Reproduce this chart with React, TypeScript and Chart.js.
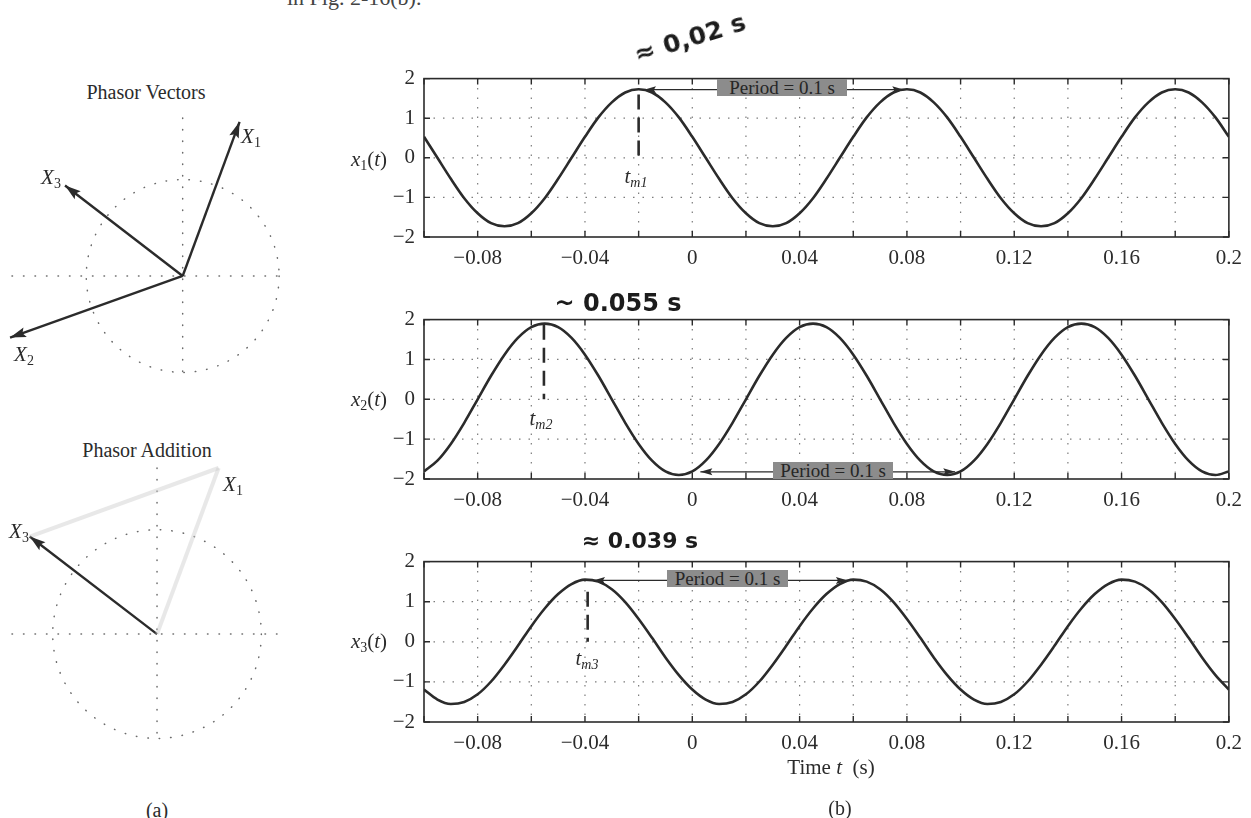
import React, { useEffect, useRef } from "react";
import { Chart, registerables } from "chart.js";

Chart.register(...registerables);

// ---------------- data ----------------
const timeValues = [
  -0.1, -0.095, -0.09, -0.085, -0.08, -0.075, -0.07, -0.065, -0.06, -0.055,
  -0.05, -0.045, -0.04, -0.035, -0.03, -0.025, -0.02, -0.015, -0.01, -0.005,
  0, 0.005, 0.01, 0.015, 0.02, 0.025, 0.03, 0.035, 0.04, 0.045,
  0.05, 0.055, 0.06, 0.065, 0.07, 0.075, 0.08, 0.085, 0.09, 0.095,
  0.1, 0.105, 0.11, 0.115, 0.12, 0.125, 0.13, 0.135, 0.14, 0.145,
  0.15, 0.155, 0.16, 0.165, 0.17, 0.175, 0.18, 0.185, 0.19, 0.195, 0.2,
];

const x1Values = [
  0.53, 0, -0.53, -1.02, -1.4, -1.65, -1.73, -1.65, -1.4, -1.02,
  -0.53, 0, 0.53, 1.02, 1.4, 1.65, 1.73, 1.65, 1.4, 1.02,
  0.53, 0, -0.53, -1.02, -1.4, -1.65, -1.73, -1.65, -1.4, -1.02,
  -0.53, 0, 0.53, 1.02, 1.4, 1.65, 1.73, 1.65, 1.4, 1.02,
  0.53, 0, -0.53, -1.02, -1.4, -1.65, -1.73, -1.65, -1.4, -1.02,
  -0.53, 0, 0.53, 1.02, 1.4, 1.65, 1.73, 1.65, 1.4, 1.02, 0.53,
];

const x2Values = [
  -1.81, -1.54, -1.12, -0.59, 0, 0.59, 1.12, 1.54, 1.81, 1.9,
  1.81, 1.54, 1.12, 0.59, 0, -0.59, -1.12, -1.54, -1.81, -1.9,
  -1.81, -1.54, -1.12, -0.59, 0, 0.59, 1.12, 1.54, 1.81, 1.9,
  1.81, 1.54, 1.12, 0.59, 0, -0.59, -1.12, -1.54, -1.81, -1.9,
  -1.81, -1.54, -1.12, -0.59, 0, 0.59, 1.12, 1.54, 1.81, 1.9,
  1.81, 1.54, 1.12, 0.59, 0, -0.59, -1.12, -1.54, -1.81, -1.9, -1.81,
];

const x3Values = [
  -1.19, -1.44, -1.55, -1.5, -1.31, -0.99, -0.57, -0.1, 0.39, 0.83,
  1.19, 1.44, 1.55, 1.5, 1.31, 0.99, 0.57, 0.1, -0.39, -0.83,
  -1.19, -1.44, -1.55, -1.5, -1.31, -0.99, -0.57, -0.1, 0.39, 0.83,
  1.19, 1.44, 1.55, 1.5, 1.31, 0.99, 0.57, 0.1, -0.39, -0.83,
  -1.19, -1.44, -1.55, -1.5, -1.31, -0.99, -0.57, -0.1, 0.39, 0.83,
  1.19, 1.44, 1.55, 1.5, 1.31, 0.99, 0.57, 0.1, -0.39, -0.83, -1.19,
];

const xTickValues = [-0.1, -0.08, -0.06, -0.04, -0.02, 0, 0.02, 0.04, 0.06, 0.08, 0.1, 0.12, 0.14, 0.16, 0.18, 0.2];
const xTickLabels = ["", "−0.08", "", "−0.04", "", "0", "", "0.04", "", "0.08", "", "0.12", "", "0.16", "", "0.2"];
const yTickValues = [-2, -1, 0, 1, 2];
const yTickLabels = ["−2", "−1", "0", "1", "2"];

// period arrows: [t start, t end, level]
const periodArrow1 = [-0.018, 0.079, 1.72];
const periodArrow2 = [0.003, 0.098, -1.82];
const periodArrow3 = [-0.037, 0.058, 1.53];
// peak markers: [t, y top, y bottom]
const peakMarker1 = [-0.02, 1.6, 0];
const peakMarker2 = [-0.0553, 1.87, 0];
const peakMarker3 = [-0.039, 1.25, 0];

// phasors [re, im]
const phasorX1 = [0.59, 1.6];
const phasorX2 = [-1.79, -0.64];
const phasorX3 = [-1.22, 0.94];
const vectorsLimits = [-1.77, 1.03, -1.08, 1.64];
const additionLimits = [-1.39, 1.15, -1.02, 1.6];

// ---------------- styling ----------------
const INK = "#2b2b2b";
const SERIF = '"Liberation Serif", "DejaVu Serif", serif';
const HAND = '"DejaVu Sans", "Noto Sans", sans-serif';
const FAINT = "rgba(205,205,205,0.45)";

function drawHead(ctx: CanvasRenderingContext2D, fx: number, fy: number, tx: number, ty: number, len: number, w: number) {
  const ang = Math.atan2(ty - fy, tx - fx);
  ctx.save();
  ctx.translate(tx, ty);
  ctx.rotate(ang);
  ctx.beginPath();
  ctx.moveTo(0, 0);
  ctx.lineTo(-len, w / 2);
  ctx.lineTo(-len * 0.82, 0);
  ctx.lineTo(-len, -w / 2);
  ctx.closePath();
  ctx.fill();
  ctx.restore();
}

function drawArrowHeads(chart: any) {
  const ctx = chart.ctx;
  chart.data.datasets.forEach((ds: any, i: number) => {
    if (!ds.arrowHeads) return;
    const pts = chart.getDatasetMeta(i).data;
    if (pts.length < 2) return;
    const a = pts[0];
    const b = pts[pts.length - 1];
    ctx.save();
    ctx.fillStyle = ds.borderColor;
    drawHead(ctx, a.x, a.y, b.x, b.y, ds.headLen, ds.headWidth);
    if (ds.arrowHeads === "both") drawHead(ctx, b.x, b.y, a.x, a.y, ds.headLen, ds.headWidth);
    ctx.restore();
  });
}

const plotDecor = {
  id: "plotDecor",
  beforeDatasetsDraw(chart: any) {
    const { ctx, chartArea: a, scales } = chart;
    const x = scales.x;
    const y = scales.y;
    ctx.save();
    ctx.strokeStyle = "#7c7c7c";
    ctx.lineWidth = 1.2;
    ctx.setLineDash([1.5, 8]);
    for (const v of xTickValues) {
      const px = x.getPixelForValue(v);
      if (px <= a.left + 2 || px >= a.right - 2) continue;
      ctx.beginPath();
      ctx.moveTo(px, a.top);
      ctx.lineTo(px, a.bottom);
      ctx.stroke();
    }
    for (const v of yTickValues) {
      const py = y.getPixelForValue(v);
      if (py <= a.top + 2 || py >= a.bottom - 2) continue;
      ctx.beginPath();
      ctx.moveTo(a.left, py);
      ctx.lineTo(a.right, py);
      ctx.stroke();
    }
    ctx.restore();
  },
  afterDatasetsDraw(chart: any) {
    const { ctx, chartArea: a, scales } = chart;
    const x = scales.x;
    const y = scales.y;
    drawArrowHeads(chart);
    ctx.save();
    ctx.strokeStyle = INK;
    ctx.lineWidth = 1.6;
    ctx.setLineDash([]);
    ctx.strokeRect(a.left, a.top, a.right - a.left, a.bottom - a.top);
    ctx.lineWidth = 1.4;
    for (const v of xTickValues) {
      const px = x.getPixelForValue(v);
      ctx.beginPath();
      ctx.moveTo(px, a.bottom);
      ctx.lineTo(px, a.bottom - 6);
      ctx.moveTo(px, a.top);
      ctx.lineTo(px, a.top + 6);
      ctx.stroke();
    }
    for (const v of yTickValues) {
      const py = y.getPixelForValue(v);
      ctx.beginPath();
      ctx.moveTo(a.left, py);
      ctx.lineTo(a.left + 6, py);
      ctx.moveTo(a.right, py);
      ctx.lineTo(a.right - 6, py);
      ctx.stroke();
    }
    ctx.restore();
  },
};

const phasorDecor = {
  id: "phasorDecor",
  beforeDatasetsDraw(chart: any) {
    const { ctx, chartArea: a, scales } = chart;
    const x = scales.x;
    const y = scales.y;
    const cx = x.getPixelForValue(0);
    const cy = y.getPixelForValue(0);
    const r = x.getPixelForValue(1) - cx;
    ctx.save();
    ctx.strokeStyle = "#6a6a6a";
    ctx.lineWidth = 1.5;
    ctx.lineCap = "round";
    ctx.setLineDash([0.5, 11]);
    ctx.beginPath();
    ctx.moveTo(a.left, cy);
    ctx.lineTo(a.right, cy);
    ctx.stroke();
    ctx.beginPath();
    ctx.moveTo(cx, a.top);
    ctx.lineTo(cx, a.bottom);
    ctx.stroke();
    ctx.beginPath();
    ctx.arc(cx, cy, r, 0, Math.PI * 2);
    ctx.stroke();
    ctx.restore();
  },
  afterDatasetsDraw(chart: any) {
    drawArrowHeads(chart);
  },
};

function tickFont() {
  return { family: SERIF, size: 21 };
}

function plotConfig(values: number[], arrow: number[], marker: number[]) {
  const pts = timeValues.map((t, i) => ({ x: t, y: values[i] }));
  return {
    type: "scatter",
    data: {
      datasets: [
        {
          data: pts,
          showLine: true,
          pointRadius: 0,
          borderColor: INK,
          borderWidth: 2.6,
          cubicInterpolationMode: "monotone",
        },
        {
          data: [
            { x: marker[0], y: marker[1] },
            { x: marker[0], y: marker[2] },
          ],
          showLine: true,
          pointRadius: 0,
          borderColor: INK,
          borderWidth: 2.6,
          borderDash: [15, 8],
        },
        {
          data: [
            { x: arrow[0], y: arrow[2] },
            { x: arrow[1], y: arrow[2] },
          ],
          showLine: true,
          pointRadius: 0,
          borderColor: INK,
          borderWidth: 1.2,
          arrowHeads: "both",
          headLen: 12,
          headWidth: 7,
        },
      ],
    },
    options: {
      animation: false,
      responsive: false,
      events: [],
      layout: { padding: { left: 0, right: 19, top: 20, bottom: 0 } },
      plugins: { legend: { display: false }, tooltip: { enabled: false } },
      scales: {
        x: {
          type: "linear",
          min: -0.1,
          max: 0.2,
          afterBuildTicks: (s: any) => {
            s.ticks = xTickValues.map((v) => ({ value: v }));
          },
          afterFit: (s: any) => {
            s.height = 40;
          },
          grid: { display: false, drawTicks: false },
          border: { display: false },
          ticks: {
            autoSkip: false,
            maxRotation: 0,
            minRotation: 0,
            padding: 9,
            color: INK,
            font: tickFont(),
            callback: (_v: any, i: number) => xTickLabels[i],
          },
        },
        y: {
          type: "linear",
          min: -2,
          max: 2,
          afterBuildTicks: (s: any) => {
            s.ticks = yTickValues.map((v) => ({ value: v }));
          },
          afterFit: (s: any) => {
            s.width = 94;
          },
          grid: { display: false, drawTicks: false },
          border: { display: false },
          ticks: {
            autoSkip: false,
            padding: 9,
            color: INK,
            font: tickFont(),
            callback: (_v: any, i: number) => yTickLabels[i],
          },
        },
      },
    },
    plugins: [plotDecor],
  };
}

function vec(p: number[], extra: any = {}) {
  return {
    data: [
      { x: 0, y: 0 },
      { x: p[0], y: p[1] },
    ],
    showLine: true,
    pointRadius: 0,
    borderColor: INK,
    borderWidth: 2.4,
    clip: false,
    arrowHeads: "end",
    headLen: 16,
    headWidth: 10,
    ...extra,
  };
}

function phasorConfig(limits: number[], datasets: any[], padding: any) {
  return {
    type: "scatter",
    data: { datasets },
    options: {
      animation: false,
      responsive: false,
      events: [],
      layout: { padding },
      plugins: { legend: { display: false }, tooltip: { enabled: false } },
      scales: {
        x: { type: "linear", display: false, min: limits[0], max: limits[1] },
        y: { type: "linear", display: false, min: limits[2], max: limits[3] },
      },
    },
    plugins: [phasorDecor],
  };
}

function ChartBox(props: { left: number; top: number; width: number; height: number; make: () => any }) {
  const ref = useRef<HTMLCanvasElement | null>(null);
  useEffect(() => {
    if (!ref.current) return;
    const chart = new Chart(ref.current, props.make());
    return () => chart.destroy();
  }, []);
  return (
    <canvas
      ref={ref}
      width={props.width}
      height={props.height}
      style={{ position: "absolute", left: props.left, top: props.top, width: props.width, height: props.height }}
    />
  );
}

function Txt(props: { cx: number; cy: number; style?: any; children: any }) {
  return (
    <div
      style={{
        position: "absolute",
        left: props.cx,
        top: props.cy,
        transform: "translate(-50%, -50%)",
        whiteSpace: "nowrap",
        fontFamily: SERIF,
        fontSize: 21,
        color: INK,
        lineHeight: 1,
        ...(props.style || {}),
      }}
    >
      {props.children}
    </div>
  );
}

const subStyle = { fontSize: 14, verticalAlign: "-0.3em", lineHeight: 0 };

function PhasorLabel(props: { cx: number; cy: number; n: string }) {
  return (
    <Txt cx={props.cx} cy={props.cy}>
      <i>X</i>
      <span style={subStyle}>{props.n}</span>
    </Txt>
  );
}

function SigLabel(props: { cy: number; n: string }) {
  return (
    <Txt cx={369} cy={props.cy}>
      <i>x</i>
      <span style={subStyle}>{props.n}</span>(<i>t</i>)
    </Txt>
  );
}

function TmLabel(props: { cx: number; cy: number; n: string }) {
  return (
    <Txt cx={props.cx} cy={props.cy}>
      <i>t</i>
      <i style={subStyle}>m{props.n}</i>
    </Txt>
  );
}

function PeriodBox(props: { left: number; top: number; width: number }) {
  return (
    <div
      style={{
        position: "absolute",
        left: props.left,
        top: props.top,
        width: props.width,
        height: 17,
        background: "#8c8c8c",
        color: "#262626",
        fontFamily: SERIF,
        fontSize: 19,
        lineHeight: "17px",
        textAlign: "center",
        whiteSpace: "nowrap",
        overflow: "hidden",
      }}
    >
      Period = 0.1 s
    </div>
  );
}

export default function App() {
  return (
    <div
      style={{
        position: "absolute",
        left: 0,
        top: 0,
        width: 1251,
        height: 818,
        overflow: "hidden",
        background: "#ffffff",
      }}
    >
      <div style={{ position: "absolute", left: 287, top: -15, fontFamily: SERIF, fontSize: 22, color: "#444", whiteSpace: "nowrap" }}>
        in Fig. 2-16(b).
      </div>

      {/* (a) phasor diagrams */}
      <Txt cx={146} cy={92} style={{ fontSize: 20 }}>Phasor Vectors</Txt>
      <ChartBox
        left={0}
        top={100}
        width={300}
        height={300}
        make={() =>
          phasorConfig(vectorsLimits, [vec(phasorX1), vec(phasorX2), vec(phasorX3)], { left: 12, right: 18, top: 18, bottom: 20 })
        }
      />
      <PhasorLabel cx={251} cy={136} n="1" />
      <PhasorLabel cx={51} cy={177} n="3" />
      <PhasorLabel cx={24} cy={354} n="2" />

      <Txt cx={147} cy={450} style={{ fontSize: 20 }}>Phasor Addition</Txt>
      <ChartBox
        left={0}
        top={450}
        width={300}
        height={310}
        make={() =>
          phasorConfig(
            additionLimits,
            [
              vec(phasorX1, { borderColor: FAINT, borderWidth: 4, arrowHeads: false }),
              {
                data: [
                  { x: phasorX1[0], y: phasorX1[1] },
                  { x: phasorX3[0], y: phasorX3[1] },
                ],
                showLine: true,
                pointRadius: 0,
                borderColor: FAINT,
                borderWidth: 4,
                clip: false,
              },
              vec(phasorX3),
            ],
            { left: 12, right: 23, top: 18, bottom: 20 }
          )
        }
      />
      <PhasorLabel cx={233} cy={484} n="1" />
      <PhasorLabel cx={19} cy={531} n="3" />
      <Txt cx={157} cy={810} style={{ fontSize: 20 }}>(a)</Txt>

      {/* (b) signals */}
      <ChartBox left={330} top={57} width={921} height={220} make={() => plotConfig(x1Values, periodArrow1, peakMarker1)} />
      <ChartBox left={330} top={298} width={921} height={221} make={() => plotConfig(x2Values, periodArrow2, peakMarker2)} />
      <ChartBox left={330} top={540} width={921} height={222} make={() => plotConfig(x3Values, periodArrow3, peakMarker3)} />

      <SigLabel cy={159} n="1" />
      <SigLabel cy={399} n="2" />
      <SigLabel cy={641} n="3" />

      <TmLabel cx={636} cy={176} n="1" />
      <TmLabel cx={541} cy={418} n="2" />
      <TmLabel cx={587} cy={658} n="3" />

      <PeriodBox left={717} top={79} width={130} />
      <PeriodBox left={773} top={462} width={120} />
      <PeriodBox left={667} top={570} width={121} />

      <Txt cx={831} cy={767}>
        Time <i>t</i>&nbsp; (s)
      </Txt>
      <Txt cx={840} cy={808} style={{ fontSize: 20 }}>(b)</Txt>

      {/* handwritten notes */}
      <Txt cx={690} cy={38} style={{ fontFamily: HAND, fontSize: 25, fontWeight: 600, color: "#1c1c1c", transform: "translate(-50%, -50%) rotate(-17deg)" }}>
        ≈ 0,02 s
      </Txt>
      <Txt cx={618} cy={303} style={{ fontFamily: HAND, fontSize: 24, fontWeight: 600, color: "#1c1c1c" }}>
        ~ 0.055 s
      </Txt>
      <Txt cx={640} cy={541} style={{ fontFamily: HAND, fontSize: 22, fontWeight: 600, color: "#1c1c1c" }}>
        ≈ 0.039 s
      </Txt>
    </div>
  );
}
